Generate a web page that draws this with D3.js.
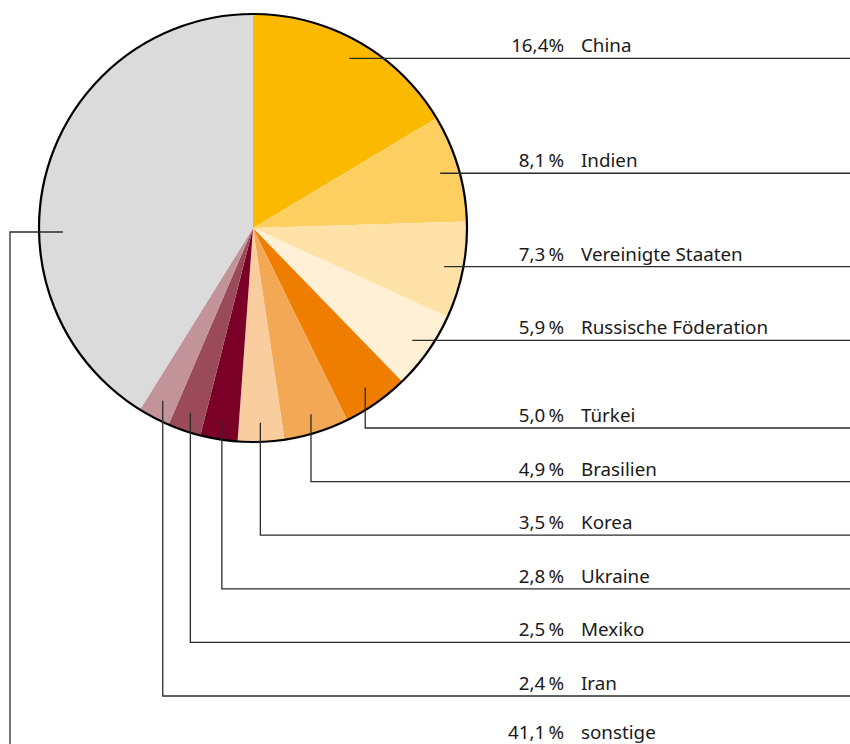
<!DOCTYPE html>
<html><head><meta charset="utf-8">
<script src="https://cdn.jsdelivr.net/npm/d3@7"></script>
<style>
html,body{margin:0;padding:0;background:#fff;}
svg{display:block;}
text{font-family:"Noto Sans","Open Sans",sans-serif;font-size:18.8px;fill:#1a1a1a;}
</style></head>
<body>
<svg id="c" width="850" height="744"></svg>
<script>
const countries = ["China","Indien","Vereinigte Staaten","Russische Föderation","Türkei","Brasilien","Korea","Ukraine","Mexiko","Iran","sonstige"];
const shares = [16.4,8.1,7.3,5.9,5.0,4.9,3.5,2.8,2.5,2.4,41.1];
const shareLabels = ["16,4%","8,1\u202F%","7,3\u202F%","5,9\u202F%","5,0\u202F%","4,9\u202F%","3,5\u202F%","2,8\u202F%","2,5\u202F%","2,4\u202F%","41,1\u202F%"];
const colors = ["#FBBA00","#FDCF61","#FEE2A8","#FFF0D6","#EE7D00","#F3A856","#F9CD9E","#7A0028","#9A4A58","#C3939A","#DADBDA"];

const svg = d3.select("#c");
const cx = 253, cy = 228, R = 214, rA = 195;
const g = svg.append("g").attr("transform", `translate(${cx},${cy})`);

const data = countries.map((c,i)=>({name:c, v:shares[i], lab:shareLabels[i], col:colors[i]}));
const pie = d3.pie().value(d=>d.v).sort(null);
const arcs = pie(data);
const arc = d3.arc().innerRadius(0).outerRadius(R);

g.selectAll("path.slice").data(arcs).join("path")
  .attr("class","slice").attr("d", arc).attr("fill", d=>d.data.col);
g.append("circle").attr("r", R).attr("fill","none").attr("stroke","#000").attr("stroke-width",2.2);

const xPctRight = 564, xName = 581, xEnd = 850;
const lowerStart = 428, lowerStep = 53.6;
const lineCol = "#2b2b2b";
const lg = svg.append("g");

arcs.forEach((a,i)=>{
  const mid = (a.startAngle + a.endAngle)/2;
  let ax = cx + rA*Math.sin(mid), ay = cy - rA*Math.cos(mid);
  let ly;
  let pts;
  if (i < 4) {
    ly = ay;
    pts = [[ax,ly],[xEnd,ly]];
  } else if (i < 10) {
    ly = lowerStart + (i-4)*lowerStep;
    pts = [[ax,ay],[ax,ly],[xEnd,ly]];
  } else {
    ly = lowerStart + (i-4)*lowerStep;
    ax = cx - 190; ay = cy + 4;
    pts = [[ax,ay],[10,ay],[10,744]];
  }
  lg.append("path").attr("d", d3.line()(pts)).attr("fill","none")
    .attr("stroke", lineCol).attr("stroke-width",1.3);
  const by = i < 10 ? ly - 6 : 739;
  lg.append("text").attr("x", xPctRight).attr("y", by).attr("text-anchor","end").text(a.data.lab);
  lg.append("text").attr("x", xName).attr("y", by).text(a.data.name);
});
</script>
</body></html>
